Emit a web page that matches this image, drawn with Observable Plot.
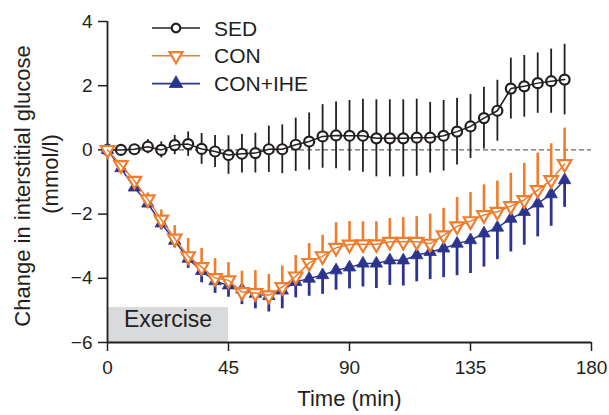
<!DOCTYPE html>
<html>
<head>
<meta charset="utf-8">
<script src="https://cdn.jsdelivr.net/npm/d3@7"></script>
<script src="https://cdn.jsdelivr.net/npm/@observablehq/plot@0.6"></script>
<style>
  html, body { margin: 0; padding: 0; background: #fff; }
  #wrap { position: relative; width: 609px; height: 415px; }
  #wrap svg { font-family: "Liberation Sans", Arial, Helvetica, sans-serif; }
</style>
</head>
<body>
<div id="wrap"></div>
<script>
// ---- data ----
const time = [0,5,10,15,20,25,30,35,40,45,50,55,60,65,70,75,80,85,90,95,100,105,110,115,120,125,130,135,140,145,150,155,160,165,170];

const sedMean = [0,0,0.02,0.1,0,0.15,0.18,0.03,-0.05,-0.16,-0.12,-0.1,0.02,0.02,0.16,0.26,0.42,0.45,0.44,0.44,0.36,0.36,0.36,0.38,0.38,0.44,0.57,0.73,0.99,1.22,1.91,1.98,2.08,2.14,2.19];
const sedSem  = [0,0.05,0.08,0.22,0.25,0.3,0.38,0.48,0.5,0.6,0.6,0.62,0.72,0.76,0.83,0.89,0.99,1.04,1.1,1.14,1.2,1.2,1.2,1.2,1.1,1.1,1.04,1.0,0.96,0.95,0.95,0.96,0.94,1.0,1.1];

const conMean = [0,-0.47,-0.96,-1.54,-2.17,-2.76,-3.31,-3.65,-3.99,-4.06,-4.43,-4.46,-4.53,-4.27,-3.94,-3.52,-3.31,-3.05,-2.95,-2.94,-2.94,-2.86,-2.86,-2.86,-2.92,-2.66,-2.38,-2.22,-2.03,-1.93,-1.75,-1.56,-1.25,-0.94,-0.44];
const conSem  = [0,0.05,0.1,0.2,0.3,0.4,0.55,0.58,0.6,0.55,0.65,0.7,0.65,0.65,0.65,0.6,0.65,0.78,0.72,0.7,0.7,0.72,0.75,0.78,0.92,0.84,0.9,0.89,0.94,0.96,1.02,1.14,1.15,1.13,1.12];

const iheMean = [0,-0.57,-1.17,-1.67,-2.29,-2.83,-3.39,-3.77,-4.09,-4.22,-4.35,-4.48,-4.55,-4.38,-4.11,-4.01,-3.9,-3.75,-3.66,-3.54,-3.54,-3.44,-3.44,-3.28,-3.18,-3.07,-2.92,-2.81,-2.6,-2.42,-2.14,-1.93,-1.67,-1.38,-0.94];
const iheSem  = [0,0.05,0.1,0.15,0.2,0.22,0.3,0.37,0.38,0.37,0.47,0.47,0.5,0.57,0.5,0.55,0.6,0.62,0.67,0.73,0.78,0.78,0.8,0.83,0.86,0.91,1.0,1.04,1.05,1.0,1.04,1.04,1.04,1.0,0.85];

const xTicks = [0,45,90,135,180];
const yTicks = [-6,-4,-2,0,2,4];
const legendLabels = ["SED","CON","CON+IHE"];
const exercise = [{start: 0, end: 45, label: "Exercise"}];
const xLabel = "Time (min)";
const yLabel1 = "Change in interstitial glucose";
const yLabel2 = "(mmol/l)";

// ---- styles ----
const BLACK = "#231f20", ORANGE = "#f07d2e", BLUE = "#2b3590";

const rows = time.map((t, i) => ({
  t,
  sed: sedMean[i], sedLo: sedMean[i] - sedSem[i], sedHi: sedMean[i] + sedSem[i],
  con: conMean[i], conHi: conMean[i] + conSem[i],
  ihe: iheMean[i], iheLo: iheMean[i] - iheSem[i]
}));

const fmt = d => d < 0 ? "\u2212" + Math.abs(d) : String(d);

const chart = Plot.plot({
  width: 609,
  height: 415,
  marginLeft: 107,
  marginRight: 18,
  marginTop: 21,
  marginBottom: 73,
  style: {fontFamily: '"Liberation Sans", Arial, Helvetica, sans-serif', background: "#fff", color: BLACK},
  x: {domain: [0, 180]},
  y: {domain: [-6, 4]},
  marks: [
    Plot.rect(exercise, {x1: "start", x2: "end", insetTop: 286, fill: "#d9dadb"}),
    Plot.text(exercise, {x: d => (d.start + d.end) / 2, text: "label", frameAnchor: "bottom", dy: -16, fontSize: 23, fill: BLACK}),
    Plot.ruleY([0], {stroke: "#666", strokeWidth: 1.3, strokeDasharray: "5,3"}),
    Plot.axisX({ticks: xTicks, tickSize: 9, tickPadding: 9, fontSize: 19, label: null, stroke: BLACK, strokeWidth: 1.5, fill: BLACK, tickFormat: fmt}),
    Plot.axisY({ticks: yTicks, tickSize: 9, tickPadding: 6, fontSize: 19, label: null, stroke: BLACK, strokeWidth: 1.5, fill: BLACK, tickFormat: fmt}),
    Plot.ruleX([0], {stroke: BLACK, strokeWidth: 1.8}),
    Plot.ruleY([-6], {stroke: BLACK, strokeWidth: 1.8}),
    Plot.text([yLabel1], {frameAnchor: "left", textAnchor: "middle", rotate: -90, dx: -85, dy: 4, fontSize: 22, fill: BLACK}),
    Plot.text([yLabel2], {frameAnchor: "left", textAnchor: "middle", rotate: -90, dx: -57, dy: -8, fontSize: 22, fill: BLACK}),
    Plot.text([xLabel], {frameAnchor: "bottom", dy: 63, fontSize: 22, fill: BLACK}),

    // SED
    Plot.ruleX(rows, {x: "t", y1: "sedLo", y2: "sedHi", stroke: BLACK, strokeWidth: 1.8}),
    Plot.dot(rows, {x: "t", y: "sed", r: 5, stroke: BLACK, strokeWidth: 2.2, fill: "white"}),
    Plot.line(rows, {x: "t", y: "sed", stroke: BLACK, strokeWidth: 1.5}),

    // CON+IHE
    Plot.ruleX(rows, {x: "t", y1: "ihe", y2: "iheLo", stroke: BLUE, strokeWidth: 2.8}),
    Plot.line(rows, {x: "t", y: "ihe", stroke: BLUE, strokeWidth: 1.5}),
    Plot.dot(rows, {x: "t", y: "ihe", symbol: "triangle", r: 4.6, fill: BLUE, stroke: BLUE, strokeWidth: 0.8}),

    // CON
    Plot.ruleX(rows, {x: "t", y1: "con", y2: "conHi", stroke: ORANGE, strokeWidth: 2.6}),
    Plot.dot(rows, {x: "t", y: "con", symbol: "triangle", rotate: 180, r: 5, stroke: ORANGE, strokeWidth: 2.2, fill: "white"}),
    Plot.line(rows, {x: "t", y: "con", stroke: ORANGE, strokeWidth: 1.5})
  ]
});

const wrap = document.getElementById("wrap");
wrap.appendChild(chart);

// ---- legend overlay ----
const leg = d3.select(wrap).append("svg")
  .attr("width", 609).attr("height", 415)
  .style("position", "absolute").style("left", "0px").style("top", "0px")
  .style("pointer-events", "none");

const legendStyles = [
  {color: BLACK, sym: d3.symbolCircle, size: Math.PI * 4.3 * 4.3, fill: "white", rot: 0, sw: 2.2},
  {color: ORANGE, sym: d3.symbolTriangle, size: Math.PI * 4.8 * 4.8, fill: "white", rot: 180, sw: 2.2},
  {color: BLUE, sym: d3.symbolTriangle, size: Math.PI * 5.0 * 5.0, fill: BLUE, rot: 0, sw: 0.8}
];

legendLabels.forEach((label, i) => {
  const s = legendStyles[i];
  const y = 28 + i * 27.8;
  const g = leg.append("g");
  g.append("line").attr("x1", 152).attr("x2", 200).attr("y1", y).attr("y2", y)
    .attr("stroke", s.color).attr("stroke-width", 1.6);
  g.append("path").attr("d", d3.symbol(s.sym, s.size)())
    .attr("transform", `translate(176,${y}) rotate(${s.rot})`)
    .attr("fill", s.fill).attr("stroke", s.color).attr("stroke-width", s.sw);
  g.append("text").attr("x", 214).attr("y", y).attr("dy", "0.36em")
    .attr("font-size", 21).attr("fill", BLACK).text(label);
});
</script>
</body>
</html>
